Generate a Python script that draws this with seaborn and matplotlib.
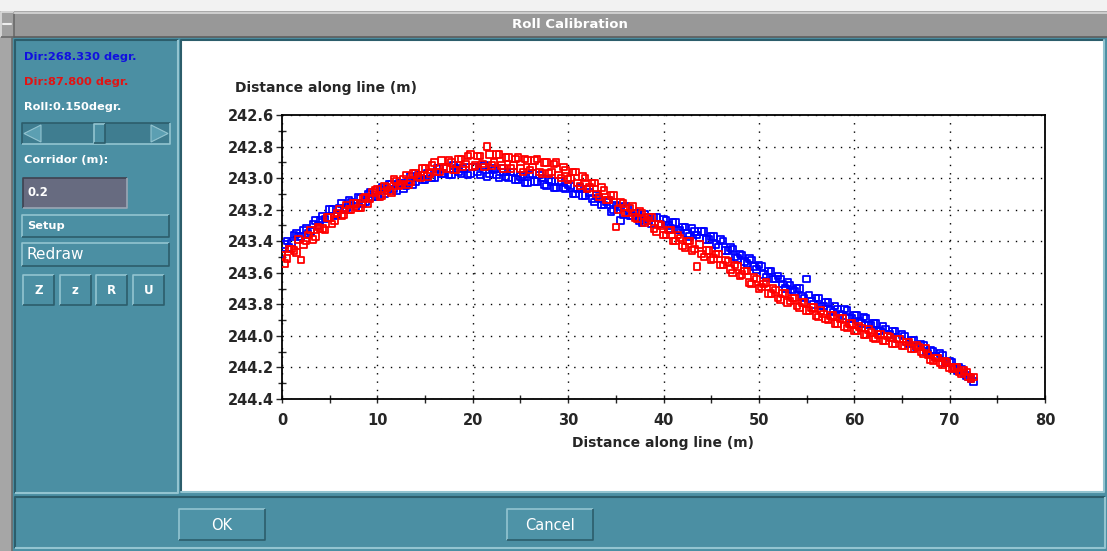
"""
Roll calibration dialog: two survey passes plotted along the line.
"""

import matplotlib
matplotlib.use("Agg")
import matplotlib.pyplot as plt
from matplotlib.patches import Rectangle, Polygon
from matplotlib.ticker import MultipleLocator, FixedLocator, FormatStrFormatter
import seaborn as sns


# Distance along line (m), one sample every half metre
DIST_M = [
    0, 0.5, 1, 1.5, 2, 2.5, 3, 3.5, 4, 4.5, 5, 5.5, 6, 6.5, 7, 7.5, 8, 8.5, 9, 9.5,
    10, 10.5, 11, 11.5, 12, 12.5, 13, 13.5, 14, 14.5, 15, 15.5, 16, 16.5, 17, 17.5,
    18, 18.5, 19, 19.5, 20, 20.5, 21, 21.5, 22, 22.5, 23, 23.5, 24, 24.5, 25, 25.5,
    26, 26.5, 27, 27.5, 28, 28.5, 29, 29.5, 30, 30.5, 31, 31.5, 32, 32.5, 33, 33.5,
    34, 34.5, 35, 35.5, 36, 36.5, 37, 37.5, 38, 38.5, 39, 39.5, 40, 40.5, 41, 41.5,
    42, 42.5, 43, 43.5, 44, 44.5, 45, 45.5, 46, 46.5, 47, 47.5, 48, 48.5, 49, 49.5,
    50, 50.5, 51, 51.5, 52, 52.5, 53, 53.5, 54, 54.5, 55, 55.5, 56, 56.5, 57, 57.5,
    58, 58.5, 59, 59.5, 60, 60.5, 61, 61.5, 62, 62.5, 63, 63.5, 64, 64.5, 65, 65.5,
    66, 66.5, 67, 67.5, 68, 68.5, 69, 69.5, 70, 70.5, 71, 71.5, 72, 72.5,
]

# in-between samples (quarter metre offsets)
DIST_M_QTR = [
    0.25, 0.75, 1.25, 1.75, 2.25, 2.75, 3.25, 3.75, 4.25, 4.75, 5.25, 5.75, 6.25,
    6.75, 7.25, 7.75, 8.25, 8.75, 9.25, 9.75, 10.25, 10.75, 11.25, 11.75, 12.25,
    12.75, 13.25, 13.75, 14.25, 14.75, 15.25, 15.75, 16.25, 16.75, 17.25, 17.75,
    18.25, 18.75, 19.25, 19.75, 20.25, 20.75, 21.25, 21.75, 22.25, 22.75, 23.25,
    23.75, 24.25, 24.75, 25.25, 25.75, 26.25, 26.75, 27.25, 27.75, 28.25, 28.75,
    29.25, 29.75, 30.25, 30.75, 31.25, 31.75, 32.25, 32.75, 33.25, 33.75, 34.25,
    34.75, 35.25, 35.75, 36.25, 36.75, 37.25, 37.75, 38.25, 38.75, 39.25, 39.75,
    40.25, 40.75, 41.25, 41.75, 42.25, 42.75, 43.25, 43.75, 44.25, 44.75, 45.25,
    45.75, 46.25, 46.75, 47.25, 47.75, 48.25, 48.75, 49.25, 49.75, 50.25, 50.75,
    51.25, 51.75, 52.25, 52.75, 53.25, 53.75, 54.25, 54.75, 55.25, 55.75, 56.25,
    56.75, 57.25, 57.75, 58.25, 58.75, 59.25, 59.75, 60.25, 60.75, 61.25, 61.75,
    62.25, 62.75, 63.25, 63.75, 64.25, 64.75, 65.25, 65.75, 66.25, 66.75, 67.25,
    67.75, 68.25, 68.75, 69.25, 69.75, 70.25, 70.75, 71.25, 71.75, 72.25,
]

# Pass heading 268.330 degr. (blue)
DEPTH_BLUE = [
    243.48, 243.40, 243.41, 243.35, 243.37, 243.32, 243.34, 243.27, 243.27, 243.26,
    243.20, 243.24, 243.19, 243.20, 243.14, 243.16, 243.12, 243.16, 243.10, 243.12,
    243.12, 243.06, 243.08, 243.04, 243.08, 243.03, 243.05, 242.99, 243.02, 242.98,
    243.01, 242.97, 243.00, 242.94, 242.97, 242.98, 242.92, 242.96, 242.94, 242.98,
    242.93, 242.96, 242.93, 242.99, 242.94, 242.98, 242.94, 242.99, 242.96, 243.01,
    242.99, 243.03, 242.98, 243.02, 242.98, 243.04, 243.01, 243.06, 243.02, 243.06,
    243.04, 243.10, 243.07, 243.11, 243.07, 243.13, 243.11, 243.17, 243.15, 243.21,
    243.17, 243.27, 243.18, 243.24, 243.22, 243.27, 243.23, 243.27, 243.25, 243.29,
    243.26, 243.30, 243.28, 243.33, 243.31, 243.35, 243.32, 243.36, 243.34, 243.39,
    243.37, 243.42, 243.39, 243.46, 243.44, 243.50, 243.48, 243.53, 243.51, 243.56,
    243.55, 243.61, 243.59, 243.64, 243.62, 243.67, 243.66, 243.71, 243.70, 243.75,
    243.64, 243.78, 243.76, 243.81, 243.79, 243.84, 243.81, 243.86, 243.83, 243.89,
    243.87, 243.91, 243.88, 243.93, 243.92, 243.97, 243.94, 243.99, 243.97, 244.02,
    243.99, 244.04, 244.03, 244.07, 244.05, 244.10, 244.09, 244.13, 244.11, 244.17,
    244.16, 244.21, 244.20, 244.24, 244.26, 244.29,
]

DEPTH_BLUE_QTR = [
    243.42, 243.44, 243.36, 243.37, 243.33, 243.35, 243.29, 243.30, 243.24, 243.25,
    243.20, 243.23, 243.16, 243.19, 243.15, 243.18, 243.13, 243.15, 243.09, 243.12,
    243.07, 243.10, 243.04, 243.07, 243.03, 243.07, 243.02, 243.04, 242.98, 243.01,
    242.97, 243.00, 242.94, 242.97, 242.94, 242.98, 242.94, 242.97, 242.93, 242.97,
    242.93, 242.98, 242.92, 242.97, 242.95, 243.00, 242.96, 243.00, 242.96, 243.01,
    242.98, 243.03, 242.97, 243.02, 243.00, 243.05, 243.02, 243.06, 243.02, 243.07,
    243.05, 243.10, 243.06, 243.11, 243.09, 243.15, 243.13, 243.17, 243.14, 243.20,
    243.18, 243.23, 243.19, 243.24, 243.22, 243.28, 243.25, 243.29, 243.25, 243.29,
    243.27, 243.32, 243.28, 243.33, 243.31, 243.37, 243.34, 243.38, 243.34, 243.39,
    243.37, 243.44, 243.40, 243.46, 243.45, 243.51, 243.49, 243.54, 243.52, 243.58,
    243.56, 243.63, 243.59, 243.64, 243.64, 243.70, 243.68, 243.72, 243.70, 243.76,
    243.74, 243.80, 243.76, 243.81, 243.79, 243.85, 243.83, 243.87, 243.84, 243.89,
    243.87, 243.92, 243.89, 243.93, 243.92, 243.97, 243.96, 243.99, 243.97, 244.02,
    244.00, 244.05, 244.03, 244.07, 244.06, 244.11, 244.10, 244.14, 244.12, 244.17,
    244.17, 244.22, 244.21, 244.25, 244.27,
]

# Pass heading 87.800 degr. (red)
DEPTH_RED = [
    243.49, 243.51, 243.45, 243.47, 243.52, 243.40, 243.33, 243.37, 243.32, 243.33,
    243.25, 243.27, 243.20, 243.23, 243.20, 243.16, 243.19, 243.13, 243.16, 243.09,
    243.07, 243.11, 243.06, 243.09, 243.02, 243.04, 242.98, 243.02, 242.97, 243.00,
    242.94, 242.97, 242.90, 242.96, 242.93, 242.89, 242.95, 242.88, 242.93, 242.86,
    242.93, 242.86, 242.91, 242.80, 242.92, 242.85, 242.92, 242.87, 242.94, 242.88,
    242.94, 242.88, 242.95, 242.89, 242.96, 242.90, 242.97, 242.91, 242.98, 242.93,
    243.01, 242.96, 243.03, 242.99, 243.07, 243.03, 243.10, 243.06, 243.14, 243.11,
    243.31, 243.15, 243.22, 243.19, 243.25, 243.21, 243.28, 243.25, 243.32, 243.29,
    243.36, 243.33, 243.40, 243.36, 243.43, 243.40, 243.46, 243.56, 243.48, 243.46,
    243.52, 243.48, 243.55, 243.52, 243.58, 243.55, 243.62, 243.59, 243.66, 243.63,
    243.70, 243.67, 243.73, 243.70, 243.76, 243.73, 243.79, 243.76, 243.81, 243.79,
    243.84, 243.82, 243.87, 243.84, 243.89, 243.87, 243.92, 243.89, 243.94, 243.92,
    243.97, 243.94, 243.99, 243.96, 244.01, 243.99, 244.03, 244.00, 244.05, 244.02,
    244.06, 244.04, 244.08, 244.06, 244.10, 244.08, 244.15, 244.14, 244.17, 244.16,
    244.20, 244.20, 244.23, 244.22, 244.26, 244.26,
]

DEPTH_RED_QTR = [
    243.54, 243.45, 243.46, 243.39, 243.42, 243.36, 243.39, 243.31, 243.32, 243.25,
    243.29, 243.22, 243.24, 243.17, 243.20, 243.16, 243.19, 243.12, 243.13, 243.08,
    243.12, 243.05, 243.08, 243.01, 243.05, 243.01, 243.04, 242.97, 242.99, 242.94,
    242.99, 242.92, 242.96, 242.89, 242.94, 242.90, 242.95, 242.88, 242.91, 242.85,
    242.92, 242.86, 242.93, 242.85, 242.90, 242.85, 242.94, 242.87, 242.92, 242.87,
    242.96, 242.89, 242.93, 242.88, 242.97, 242.90, 242.96, 242.90, 243.00, 242.95,
    243.00, 242.96, 243.05, 243.00, 243.06, 243.03, 243.12, 243.08, 243.14, 243.11,
    243.20, 243.16, 243.22, 243.18, 243.26, 243.22, 243.27, 243.25, 243.34, 243.30,
    243.36, 243.33, 243.40, 243.38, 243.44, 243.40, 243.45, 243.42, 243.50, 243.46,
    243.51, 243.48, 243.55, 243.53, 243.60, 243.56, 243.61, 243.59, 243.67, 243.64,
    243.69, 243.66, 243.73, 243.71, 243.77, 243.73, 243.78, 243.76, 243.82, 243.79,
    243.84, 243.82, 243.88, 243.86, 243.90, 243.87, 243.92, 243.89, 243.95, 243.92,
    243.97, 243.95, 243.99, 243.98, 244.02, 243.99, 244.03, 244.01, 244.05, 244.02,
    244.06, 244.04, 244.08, 244.07, 244.11, 244.12, 244.16, 244.14, 244.18, 244.17,
    244.21, 244.20, 244.24, 244.23, 244.27,
]

X_TICKS = [0, 10, 20, 30, 40, 50, 60, 70, 80]
Y_TICKS = [242.6, 242.8, 243.0, 243.2, 243.4, 243.6, 243.8, 244.0, 244.2, 244.4]

TITLE = "Roll Calibration"
AXIS_LABEL = "Distance along line (m)"
DIR_BLUE_TEXT = "Dir:268.330 degr."
DIR_RED_TEXT = "Dir:87.800 degr."
ROLL_TEXT = "Roll:0.150degr."
CORRIDOR_TEXT = "Corridor (m):"
CORRIDOR_VALUE = "0.2"
SMALL_BUTTONS = ["Z", "z", "R", "U"]

W, H = 1107, 551

TEAL = "#4b8fa3"
TEAL_DARK = "#2c5d6b"
TEAL_LIGHT = "#93c4d0"
GREY_BAR = "#989898"


def raised(ax, x, y, w, h, face=TEAL, light=TEAL_LIGHT, dark=TEAL_DARK, lw=1.2, z=1):
    """Draw a Motif-like bevelled box in pixel coords (y down)."""
    ax.add_patch(Rectangle((x, y), w, h, facecolor=face, edgecolor="none", zorder=z))
    ax.plot([x, x, x + w], [y + h, y, y], color=light, lw=lw, zorder=z + 0.1,
            solid_capstyle="butt")
    ax.plot([x, x + w, x + w], [y + h, y + h, y], color=dark, lw=lw, zorder=z + 0.1,
            solid_capstyle="butt")


def main():
    sns.set_style("white")
    plt.rcParams["font.family"] = ["DejaVu Sans"]

    fig = plt.figure(figsize=(W / 100, H / 100), dpi=100)
    fig.patch.set_facecolor("#a9a9a9")

    # Window frame drawn in pixel coordinates
    bg = fig.add_axes([0, 0, 1, 1])
    bg.set_xlim(0, W)
    bg.set_ylim(H, 0)
    bg.axis("off")

    bg.add_patch(Rectangle((0, 0), W, 11, facecolor="#f2f2f2", edgecolor="none"))
    bg.add_patch(Rectangle((14, 12), W - 14, 25, facecolor=GREY_BAR, edgecolor="none"))
    bg.plot([14, W], [13, 13], color="#d8d8d8", lw=1.2)
    bg.plot([14, W], [36.5, 36.5], color="#5e5e5e", lw=1.2)
    raised(bg, 1, 12, 13, 25, face="#a0a0a0", light="#dcdcdc", dark="#6a6a6a")
    bg.plot([3, 11], [24, 24], color="#eeeeee", lw=1.5)
    bg.text(570, 25, TITLE, color="white", fontsize=9.5, fontweight="bold",
            ha="center", va="center")

    # teal client area
    bg.add_patch(Rectangle((12, 37), W - 12, H - 37, facecolor=TEAL, edgecolor="none"))
    bg.add_patch(Rectangle((0, 37), 12, H - 37, facecolor="#a6a6a6", edgecolor="none"))
    bg.plot([11.5, 11.5], [37, H], color="#6d6d6d", lw=1.2)

    # left control panel
    raised(bg, 15, 40, 163, 453, light=TEAL_DARK, dark=TEAL_LIGHT, lw=1.5)
    # plot panel
    bg.add_patch(Rectangle((181, 40), 923, 452, facecolor="white", edgecolor="none"))
    bg.plot([181, 181, 1104], [492, 40, 40], color=TEAL_DARK, lw=1.5)
    bg.plot([181, 1104, 1104], [492, 492, 40], color=TEAL_LIGHT, lw=1.5)
    # bottom button bar
    raised(bg, 15, 497, 1090, 51, light=TEAL_DARK, dark=TEAL_LIGHT, lw=1.5)

    for bx, label in [(179, "OK"), (507, "Cancel")]:
        raised(bg, bx, 509, 86, 31, face="#4e93a7")
        bg.text(bx + 43, 525, label, color="white", fontsize=10.5,
                ha="center", va="center")

    bg.text(24, 57, DIR_BLUE_TEXT, color="#1010e0", fontsize=8.2,
            fontweight="bold", va="center")
    bg.text(24, 82, DIR_RED_TEXT, color="#e01414", fontsize=8.2,
            fontweight="bold", va="center")
    bg.text(24, 107, ROLL_TEXT, color="white", fontsize=8.2,
            fontweight="bold", va="center")

    # scrollbar
    raised(bg, 22, 123, 148, 21, face="#3f7d90", light=TEAL_DARK, dark=TEAL_LIGHT)
    bg.add_patch(Polygon([[24, 133.5], [41, 125], [41, 142]], closed=True,
                         facecolor="#5c9fb2", edgecolor=TEAL_LIGHT, lw=0.8))
    bg.add_patch(Polygon([[168, 133.5], [151, 125], [151, 142]], closed=True,
                         facecolor="#5c9fb2", edgecolor=TEAL_LIGHT, lw=0.8))
    raised(bg, 94, 124, 11, 19, face="#4b8fa3", z=2)

    bg.text(24, 160, CORRIDOR_TEXT, color="white", fontsize=8.2,
            fontweight="bold", va="center")
    raised(bg, 23, 178, 104, 30, face="#676b80", light="#3f4250", dark="#9aa6b4")
    bg.text(28, 193, CORRIDOR_VALUE, color="white", fontsize=8.5,
            fontweight="bold", va="center")

    raised(bg, 22, 215, 147, 22)
    bg.text(27, 226, "Setup", color="white", fontsize=8.2, fontweight="bold",
            va="center")
    raised(bg, 22, 243, 147, 23)
    bg.text(27, 254.5, "Redraw", color="white", fontsize=11, va="center")

    for k, label in enumerate(SMALL_BUTTONS):
        bx = 23 + k * 36.7
        raised(bg, bx, 275, 31, 30)
        bg.text(bx + 15.5, 290, label, color="white", fontsize=8.5,
                fontweight="bold", ha="center", va="center")

    # the calibration plot
    ax = fig.add_axes([282 / W, 1 - 399 / H, 763 / W, 284 / H])
    ax.set_facecolor("white")
    ax.set_zorder(5)

    sns.scatterplot(x=DIST_M + DIST_M_QTR, y=DEPTH_BLUE + DEPTH_BLUE_QTR, ax=ax,
                    marker="s", s=22, color="#0000ff", facecolor="none",
                    edgecolor="#0000ff", linewidth=1.3, zorder=3)
    sns.scatterplot(x=DIST_M + DIST_M_QTR, y=DEPTH_RED + DEPTH_RED_QTR, ax=ax,
                    marker="s", s=22, color="#ff0000", facecolor="none",
                    edgecolor="#ff0000", linewidth=1.3, zorder=4)

    ax.set_xlim(X_TICKS[0], X_TICKS[-1])
    ax.set_ylim(Y_TICKS[-1], Y_TICKS[0])
    ax.xaxis.set_major_locator(FixedLocator(X_TICKS))
    ax.yaxis.set_major_locator(FixedLocator(Y_TICKS))
    ax.xaxis.set_minor_locator(MultipleLocator(5))
    ax.yaxis.set_minor_locator(MultipleLocator(0.1))
    ax.yaxis.set_major_formatter(FormatStrFormatter("%.1f"))
    ax.xaxis.set_major_formatter(FormatStrFormatter("%d"))

    ax.grid(True, which="major", color="black", linestyle=(0, (1, 5)), linewidth=1.0)
    ax.set_axisbelow(True)

    for side in ["left", "right", "top", "bottom"]:
        ax.spines[side].set_visible(True)
        ax.spines[side].set_color("black")
        ax.spines[side].set_linewidth(1.3)

    ax.tick_params(axis="y", which="major", direction="out", length=4, width=1,
                   pad=2, labelsize=10.5, left=True)
    ax.tick_params(axis="y", which="minor", direction="inout", length=6, width=1,
                   left=True)
    ax.tick_params(axis="x", which="both", direction="inout", length=6, width=1,
                   pad=7, labelsize=10.5, bottom=True)
    for lab in ax.get_xticklabels() + ax.get_yticklabels():
        lab.set_fontweight("bold")

    ax.set_xlabel(AXIS_LABEL, fontsize=10, fontweight="bold", labelpad=6)
    ax.set_ylabel("")
    bg.text(235, 88, AXIS_LABEL, fontsize=10, fontweight="bold", va="center")

    plt.savefig("out.png", dpi=100, facecolor=fig.get_facecolor())


if __name__ == "__main__":
    main()
